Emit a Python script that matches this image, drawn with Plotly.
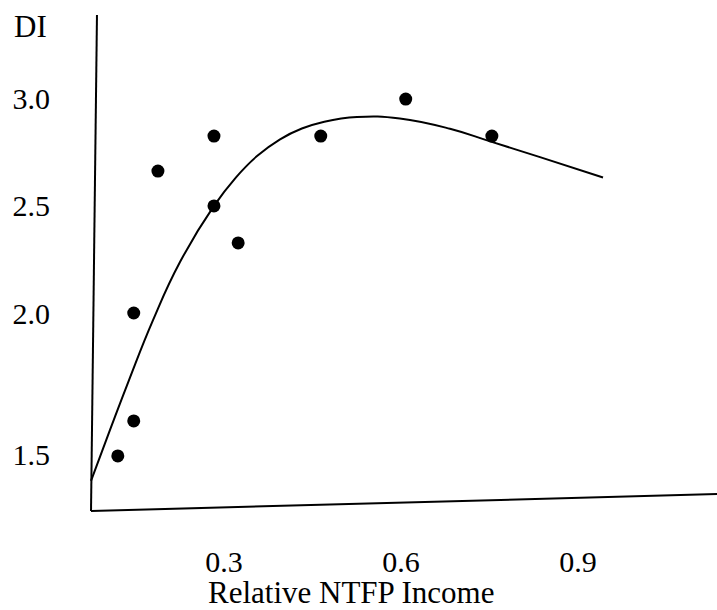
import plotly.graph_objects as go

# Observed points (Relative NTFP income vs DI)
pts_x = [0.120, 0.147, 0.147, 0.188, 0.283, 0.283, 0.324, 0.464, 0.608, 0.754]
pts_y = [1.335, 1.498, 2.000, 2.660, 2.823, 2.498, 2.326, 2.823, 2.995, 2.823]

# Fitted curve
fit_x = [0.0746, 0.1068, 0.139, 0.1797, 0.2254, 0.283, 0.320, 0.356, 0.395,
         0.432, 0.470, 0.5254, 0.598, 0.683, 0.7525, 0.8356, 0.9424]
fit_y = [1.219, 1.456, 1.688, 1.967, 2.237, 2.498, 2.630, 2.730, 2.808,
         2.858, 2.890, 2.912, 2.905, 2.857, 2.797, 2.725, 2.630]

# Hand-drawn axis lines (slightly skewed)
yaxis_line_x = [0.0746, 0.0847]
yaxis_line_y = [1.079, 3.386]
xaxis_line_x = [0.0746, 1.14]
xaxis_line_y = [1.079, 1.158]

x_ticks = [0.3, 0.6, 0.9]
x_tick_text = ["0.3", "0.6", "0.9"]
y_ticks = [1.344, 2.0, 2.5, 3.0]
y_tick_text = ["1.5", "2.0", "2.5", "3.0"]

x_title = "Relative NTFP Income"
y_title = "DI"

FONT = "Liberation Serif, Times New Roman, serif"
W, H = 717, 610
L, B = 53, 69

fig = go.Figure()
fig.add_trace(go.Scatter(x=yaxis_line_x, y=yaxis_line_y, mode="lines",
                         line=dict(color="black", width=2), hoverinfo="skip"))
fig.add_trace(go.Scatter(x=xaxis_line_x, y=xaxis_line_y, mode="lines",
                         line=dict(color="black", width=2), hoverinfo="skip"))
fig.add_trace(go.Scatter(x=fit_x, y=fit_y, mode="lines",
                         line=dict(color="black", width=2, shape="spline",
                                   smoothing=1.3),
                         hoverinfo="skip"))
fig.add_trace(go.Scatter(x=pts_x, y=pts_y, mode="markers",
                         marker=dict(color="black", size=13)))

fig.update_layout(
    width=W, height=H,
    margin=dict(l=L, r=0, t=0, b=B),
    paper_bgcolor="white", plot_bgcolor="white",
    showlegend=False,
    font=dict(family=FONT, size=30, color="black"),
    xaxis=dict(range=[0.01017, 1.13559], showgrid=False, zeroline=False,
               showline=False, ticks="", tickvals=x_ticks, ticktext=x_tick_text,
               tickfont=dict(family=FONT, size=30, color="black")),
    yaxis=dict(range=[0.93953, 3.45581], showgrid=False, zeroline=False,
               showline=False, ticks="", tickvals=y_ticks, ticktext=y_tick_text,
               ticklabelstandoff=2,
               tickfont=dict(family=FONT, size=30, color="black")),
)

plot_w = W - L
plot_h = H - B
fig.add_annotation(text=y_title, xref="paper", yref="paper",
                   x=(12 - L) / plot_w, y=(plot_h - 26) / plot_h,
                   xanchor="left", yanchor="middle", showarrow=False,
                   font=dict(family=FONT, size=31, color="black"))
fig.add_annotation(text=x_title, xref="paper", yref="paper",
                   x=(206 - L) / plot_w, y=(plot_h - 593) / plot_h,
                   xanchor="left", yanchor="middle", showarrow=False,
                   font=dict(family=FONT, size=31, color="black"))

fig.write_html("out.html", config={"displayModeBar": False},
               post_script="document.body.style.margin='0';")
